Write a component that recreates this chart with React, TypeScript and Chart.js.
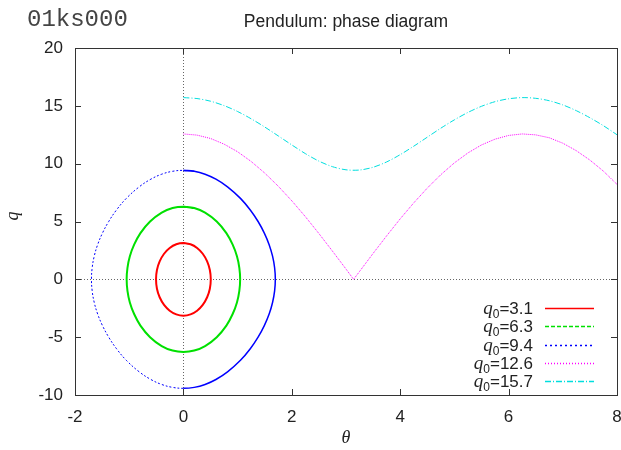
import React, { useEffect, useRef } from 'react';
import { Chart, registerables } from 'chart.js';

Chart.register(...registerables);

const xTicks = [-2, 0, 2, 4, 6, 8];
const yTicks = [-10, -5, 0, 5, 10, 15, 20];
const q0Labels = ['3.1', '6.3', '9.4', '12.6', '15.7'];
const seriesColors = ['#ff0000', '#00e000', '#0000ff', '#ff00ff', '#00dede'];
const seriesDash: number[][] = [[], [4, 2], [2, 3], [1, 2], [6, 2, 1, 2]];
const seriesWidth = [2, 2, 1.5, 1, 1];

const redTheta = [0, 0.131, 0.253, 0.357, 0.438, 0.488, 0.505, 0.488, 0.438, 0.357, 0.253, 0.131, 0, -0.131, -0.253, -0.357, -0.438, -0.488, -0.505, -0.488, -0.438, -0.357, -0.253, -0.131, 0, 0.131];
const redQ = [3.14, 3.03, 2.71, 2.21, 1.55, 0.81, 0, -0.81, -1.55, -2.21, -2.71, -3.03, -3.14, -3.03, -2.71, -2.21, -1.55, -0.81, 0, 0.81, 1.55, 2.21, 2.71, 3.03, 3.14, 3.03];

const greenTheta = [0, 0.2, 0.4, 0.615, 0.793, 0.909, 0.988, 1.032, 1.047, 1.032, 0.988, 0.909, 0.793, 0.615, 0.4, 0.2, 0, -0.2, -0.4, -0.615, -0.793, -0.909, -0.988, -1.032, -1.047, -1.032, -0.988, -0.909, -0.793, -0.615, -0.4, -0.2, 0, 0.2];
const greenQ = [6.28, 6.16, 5.77, 5, 4, 3, 2, 1, 0, -1, -2, -3, -4, -5, -5.77, -6.16, -6.28, -6.16, -5.77, -5, -4, -3, -2, -1, 0, 1, 2, 3, 4, 5, 5.77, 6.16, 6.28, 6.16];

const blueTheta = [0, 0.2, 0.4, 0.6, 0.814, 1.053, 1.234, 1.378, 1.493, 1.582, 1.645, 1.683, 1.696, 1.683, 1.645, 1.582, 1.493, 1.378, 1.234, 1.053, 0.814, 0.6, 0.4, 0.2, 0, -0.2, -0.4, -0.6, -0.814, -1.053, -1.234, -1.378, -1.493, -1.582, -1.645, -1.683, -1.696, -1.683, -1.645, -1.582, -1.493, -1.378, -1.234, -1.053, -0.814, -0.6, -0.4, -0.2, 0, 0.2];
const blueQ = [9.42, 9.34, 9.09, 8.66, 8, 7, 6, 5, 4, 3, 2, 1, 0, -1, -2, -3, -4, -5, -6, -7, -8, -8.66, -9.09, -9.34, -9.42, -9.34, -9.09, -8.66, -8, -7, -6, -5, -4, -3, -2, -1, 0, 1, 2, 3, 4, 5, 6, 7, 8, 8.66, 9.09, 9.34, 9.42, 9.34];

const magentaTheta = [0, 0.25, 0.5, 0.75, 1.0, 1.25, 1.5, 1.75, 2.0, 2.25, 2.5, 2.75, 3.0, 3.14, 3.25, 3.5, 3.75, 4.0, 4.25, 4.5, 4.75, 5.0, 5.25, 5.5, 5.75, 6.0, 6.25, 6.5, 6.75, 7.0, 7.25, 7.5, 7.75, 8.0];
const magentaQ = [12.57, 12.47, 12.18, 11.69, 11.03, 10.19, 9.19, 8.05, 6.79, 5.42, 3.96, 2.44, 0.89, 0, 0.68, 2.24, 3.76, 5.23, 6.61, 7.89, 9.05, 10.07, 10.93, 11.62, 12.12, 12.44, 12.57, 12.49, 12.24, 11.77, 11.12, 10.31, 9.35, 8.21];

const cyanTheta = [0, 0.25, 0.5, 0.75, 1.0, 1.25, 1.5, 1.75, 2.0, 2.25, 2.5, 2.75, 3.0, 3.25, 3.5, 3.75, 4.0, 4.25, 4.5, 4.75, 5.0, 5.25, 5.5, 5.75, 6.0, 6.25, 6.5, 6.75, 7.0, 7.25, 7.5, 7.75, 8.0];
const cyanQ = [15.71, 15.63, 15.40, 15.02, 14.51, 13.88, 13.17, 12.40, 11.62, 10.87, 10.22, 9.74, 9.47, 9.45, 9.69, 10.15, 10.78, 11.51, 12.29, 13.07, 13.79, 14.43, 14.96, 15.36, 15.61, 15.71, 15.65, 15.44, 15.08, 14.58, 13.97, 13.28, 12.50];

const toPts = (xs: number[], ys: number[]) => xs.map((x, i) => ({ x, y: ys[i] }));

const SANS = '"Liberation Sans", Arial, sans-serif';
const SERIF = '"Liberation Serif", "Times New Roman", serif';
const MONO = '"Liberation Mono", "Courier New", monospace';

const decoPlugin = {
  id: 'deco',
  beforeDatasetsDraw(chart: any) {
    const { ctx, chartArea: a, scales } = chart;
    const xs = scales.x;
    const ys = scales.y;
    ctx.save();
    ctx.lineWidth = 1;
    ctx.strokeStyle = '#666';
    ctx.setLineDash([1, 2]);
    const x0 = Math.round(xs.getPixelForValue(0)) + 0.5;
    const y0 = Math.round(ys.getPixelForValue(0)) + 0.5;
    ctx.beginPath();
    ctx.moveTo(x0, a.top);
    ctx.lineTo(x0, a.bottom);
    ctx.moveTo(a.left, y0);
    ctx.lineTo(a.right, y0);
    ctx.stroke();
    ctx.setLineDash([]);
    ctx.strokeStyle = '#333';
    ctx.beginPath();
    const tl = 6;
    xTicks.forEach((v) => {
      const px = Math.round(xs.getPixelForValue(v)) + 0.5;
      ctx.moveTo(px, a.bottom);
      ctx.lineTo(px, a.bottom - tl);
      ctx.moveTo(px, a.top);
      ctx.lineTo(px, a.top + tl);
    });
    yTicks.forEach((v) => {
      const py = Math.round(ys.getPixelForValue(v)) + 0.5;
      ctx.moveTo(a.left, py);
      ctx.lineTo(a.left + tl, py);
      ctx.moveTo(a.right, py);
      ctx.lineTo(a.right - tl, py);
    });
    ctx.stroke();
    ctx.strokeRect(Math.round(a.left) + 0.5, Math.round(a.top) + 0.5, Math.round(a.right - a.left), Math.round(a.bottom - a.top));
    ctx.restore();
  },
  afterDraw(chart: any) {
    const { ctx, chartArea: a } = chart;
    ctx.save();
    ctx.fillStyle = '#444';
    ctx.font = `24px ${MONO}`;
    ctx.textAlign = 'left';
    ctx.textBaseline = 'alphabetic';
    ctx.fillText('01ks000', 27, 26);
    ctx.font = `17.5px ${SANS}`;
    ctx.textAlign = 'center';
    ctx.fillStyle = '#222';
    ctx.fillText('Pendulum: phase diagram', 346, 27);
    ctx.font = `italic 18px ${SERIF}`;
    ctx.fillText('θ', (a.left + a.right) / 2, 443);
    ctx.save();
    ctx.translate(18, 216);
    ctx.rotate(-Math.PI / 2);
    ctx.textAlign = 'center';
    ctx.fillText('q', 0, 0);
    ctx.restore();
    const right = 533;
    q0Labels.forEach((lab, i) => {
      const y = 308.3 + i * 18.1;
      ctx.textAlign = 'left';
      ctx.fillStyle = '#222';
      ctx.font = `17px ${SANS}`;
      const eq = '=' + lab;
      const w1 = ctx.measureText(eq).width;
      ctx.fillText(eq, right - w1, y + 6);
      ctx.font = `12px ${SANS}`;
      const ws = ctx.measureText('0').width;
      ctx.fillText('0', right - w1 - ws, y + 10);
      ctx.font = `italic 19px ${SERIF}`;
      const wq = ctx.measureText('q').width;
      ctx.fillText('q', right - w1 - ws - wq, y + 6);
      ctx.strokeStyle = seriesColors[i];
      ctx.lineWidth = 1.5;
      ctx.setLineDash(seriesDash[i]);
      ctx.beginPath();
      ctx.moveTo(545, Math.round(y) + 0.5);
      ctx.lineTo(594, Math.round(y) + 0.5);
      ctx.stroke();
      ctx.setLineDash([]);
    });
    ctx.restore();
  },
};

export default function App() {
  const ref = useRef<HTMLCanvasElement | null>(null);
  useEffect(() => {
    if (!ref.current) return;
    const base = { showLine: true, pointRadius: 0, pointHoverRadius: 0, fill: false };
    const leftSide = (c: any) => c.p0.parsed.x < -0.01 || c.p1.parsed.x < -0.01;
    const chart = new Chart(ref.current, {
      type: 'scatter',
      data: {
        datasets: [
          { ...base, label: 'q0=3.1', data: toPts(redTheta, redQ), borderColor: seriesColors[0], borderWidth: seriesWidth[0], tension: 0.4 },
          { ...base, label: 'q0=6.3', data: toPts(greenTheta, greenQ), borderColor: seriesColors[1], borderWidth: seriesWidth[1], tension: 0.4 },
          {
            ...base, label: 'q0=9.4', data: toPts(blueTheta, blueQ), borderColor: seriesColors[2], borderWidth: seriesWidth[2], tension: 0.4,
            segment: {
              borderDash: (c: any) => (leftSide(c) ? [2, 2] : undefined),
              borderWidth: (c: any) => (leftSide(c) ? 1 : undefined),
            },
          },
          { ...base, label: 'q0=12.6', data: toPts(magentaTheta, magentaQ), borderColor: seriesColors[3], borderWidth: seriesWidth[3], borderDash: [1, 1], tension: 0 },
          { ...base, label: 'q0=15.7', data: toPts(cyanTheta, cyanQ), borderColor: seriesColors[4], borderWidth: seriesWidth[4], borderDash: [6, 2, 1, 2], tension: 0.3 },
        ],
      } as any,
      options: {
        animation: false,
        responsive: false,
        devicePixelRatio: 1,
        layout: { padding: { top: 48, right: 4, left: 0, bottom: 0 } },
        plugins: { legend: { display: false }, tooltip: { enabled: false }, title: { display: false } },
        scales: {
          x: {
            type: 'linear', min: -2, max: 8,
            grid: { display: false, drawTicks: false },
            border: { display: false },
            ticks: { stepSize: 2, padding: 12, color: '#222', font: { family: SANS, size: 17 }, maxRotation: 0 },
            afterFit: (s: any) => { s.height = 55; s.paddingLeft = 0; s.paddingRight = 0; },
          },
          y: {
            type: 'linear', min: -10, max: 20,
            grid: { display: false, drawTicks: false },
            border: { display: false },
            ticks: { stepSize: 5, padding: 12, color: '#222', font: { family: SANS, size: 17 } },
            afterFit: (s: any) => { s.width = 75; s.paddingTop = 0; s.paddingBottom = 0; },
          },
        },
      } as any,
      plugins: [decoPlugin],
    });
    return () => chart.destroy();
  }, []);
  return (
    <div style={{ position: 'absolute', left: 0, top: 0, width: 621, height: 450, background: '#fff' }}>
      <canvas ref={ref} width={621} height={450} style={{ display: 'block' }} />
    </div>
  );
}
